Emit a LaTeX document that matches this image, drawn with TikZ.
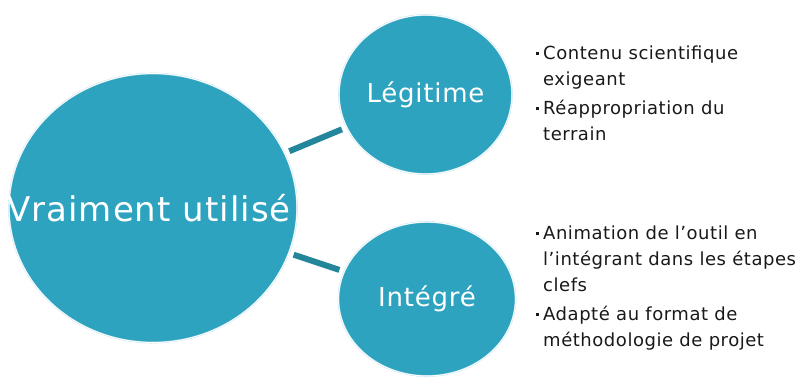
\documentclass[tikz,border=0pt]{standalone}
\usepackage{fontspec}
\setmainfont{DejaVu Sans}[LetterSpace=3]
\usetikzlibrary{shapes.geometric}

\definecolor{discteal}{HTML}{2EA3C0}
\definecolor{barteal}{HTML}{23869B}
\definecolor{ringblue}{HTML}{BFE3EE}

\newcommand{\itemdot}{\llap{\raisebox{4.5pt}{\rule{3pt}{3pt}}\hspace{4.5pt}}}

\tikzset{
	disc/.style={ellipse, fill=discteal, draw=ringblue, double=white, double distance=0.8pt, line width=0.4pt, inner sep=0},
	bar/.style={barteal, line width=6pt, shorten >=5pt, shorten <=5pt},
	bigtxt/.style={text=white, font=\fontsize{34}{40}\selectfont},
	smalltxt/.style={text=white, font=\fontsize{26}{30}\selectfont},
	listtxt/.style={align=left, anchor=north west, inner sep=0, text=black!90, font=\fontsize{18}{25.7}\selectfont},
}

\begin{document}
\begin{tikzpicture}[x=1pt, y=-1pt]
	\useasboundingbox (0,0) rectangle (798,376);
	\node[disc, minimum width=288, minimum height=269, label={[bigtxt, xshift=-4pt]center:Vraiment utilisé}] (big) at (153,208) {};
	\node[disc, minimum width=173, minimum height=159, label={[smalltxt]center:Légitime}] (legit) at (425.5,94.5) {};
	\node[disc, minimum width=177, minimum height=154, label={[smalltxt]center:Intégré}] (integ) at (427,299) {};
	\draw[bar] (big) -- (legit);
	\draw[bar] (big) -- (integ);

	\node[listtxt] (legitlist) at (543,46) {\itemdot Contenu scientifique\\exigeant\\[3.5pt]\itemdot Réappropriation du\\terrain};
	\node[listtxt] (integlist) at (543,226) {\itemdot Animation de l’outil en\\l’intégrant dans les étapes\\clefs\\[3.5pt]\itemdot Adapté au format de\\méthodologie de projet};
\end{tikzpicture}
\end{document}
